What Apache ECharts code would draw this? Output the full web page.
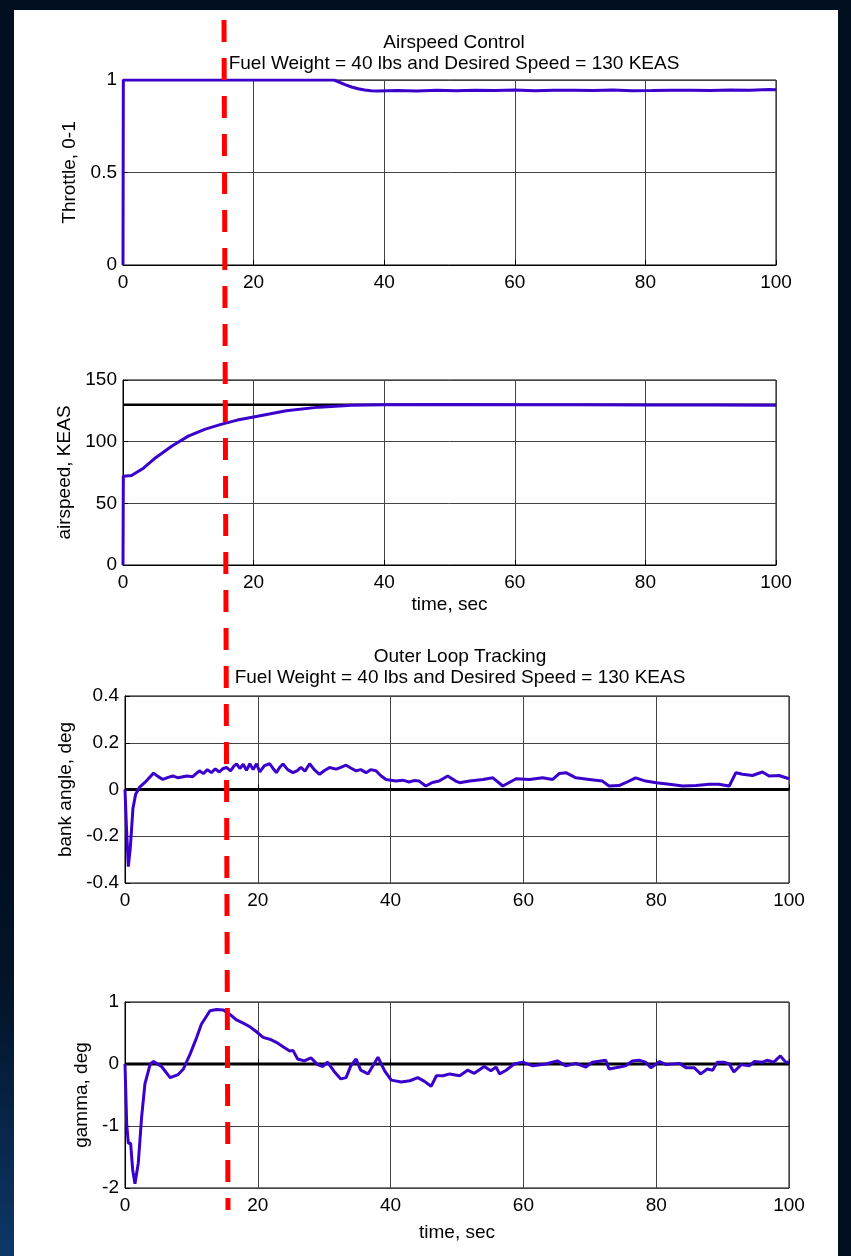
<!DOCTYPE html>
<html>
<head>
<meta charset="utf-8">
<script src="https://cdn.jsdelivr.net/npm/echarts@6/dist/echarts.min.js"></script>
<style>
  html, body { margin: 0; padding: 0; }
  body {
    width: 851px; height: 1256px; overflow: hidden; position: relative;
    background: radial-gradient(ellipse 500px 400px at 0% 100%, #0d3868 0%, #03162e 60%, #010f20 100%);
  }
  #panel { position: absolute; left: 14px; top: 10px; width: 824px; height: 1246px; background: #fff; }
  #main { position: absolute; left: 0; top: 0; width: 851px; height: 1256px; }
</style>
</head>
<body>
<div id="panel"></div>
<div id="main"></div>
<script>
var myChart = echarts.init(document.getElementById('main'));

// throttle
var thrT = [0, 0.05, 32.3, 33, 34, 35, 36, 37, 38, 39, 42, 45, 48, 51, 54, 57, 60, 63, 66, 69, 72, 75, 78, 81, 84, 87, 90, 93, 96, 99, 100];
var thrV = [0, 1, 1, 0.99, 0.975, 0.962, 0.953, 0.946, 0.942, 0.94, 0.943, 0.941, 0.944, 0.942, 0.945, 0.943, 0.946, 0.942, 0.944, 0.945, 0.943, 0.946, 0.942, 0.943, 0.945, 0.944, 0.943, 0.946, 0.945, 0.948, 0.947];

// airspeed
var asT = [0, 0.05, 1.3, 3, 5, 7.5, 10, 12.5, 15, 17.5, 20, 25, 30, 35, 40, 50, 60, 70, 80, 90, 100];
var asV = [0, 72, 72.5, 78, 87, 96.5, 104.5, 110, 114, 117.5, 120, 125, 128, 129.6, 130, 130.1, 130, 129.9, 129.8, 129.7, 129.5];
var desiredSpeed = 130;

// bank angle
var bankT = [0, 0.2, 0.5, 0.8, 1.2, 1.6, 2.2, 3, 4.3, 5,
  5.7, 6.5, 7.2, 8, 9.3, 10.2, 10.8, 11.2, 11.8, 12.4,
  13, 13.6, 14.2, 14.8, 15.3, 15.9, 16.4, 16.8, 17.3, 17.8,
  18.3, 18.8, 19.3, 19.8, 20.3, 21, 21.8, 22.3, 22.8, 23.3,
  23.8, 24.5, 25.3, 25.9, 26.5, 27.1, 27.8, 28.5, 29.3, 30,
  30.8, 31.8, 32.5, 33.3, 34, 34.8, 35.5, 36.3, 37, 37.8,
  38.5, 39.3, 40.8, 41.8, 42.8, 43.5, 44.3, 45.3, 46.3, 47.3,
  48.6, 49.8, 50.4, 51.9, 53.9, 55.4, 56.9, 58.9, 60.9, 62.9,
  64.4, 65.4, 66.4, 67.9, 69.9, 71.9, 72.9, 74.4, 75.4, 76.9,
  78.4, 80, 82, 84, 86, 88, 89.4, 91, 92, 93,
  94.5, 96, 97, 98.5, 100];
var bankV = [0, -0.15, -0.33, -0.25, -0.08, -0.02, 0.01, 0.03, 0.07, 0.055,
  0.043, 0.052, 0.058, 0.05, 0.058, 0.055, 0.07, 0.08, 0.068, 0.085,
  0.072, 0.088, 0.075, 0.09, 0.094, 0.08, 0.1, 0.11, 0.09, 0.108,
  0.082, 0.11, 0.085, 0.11, 0.075, 0.102, 0.11, 0.09, 0.072, 0.095,
  0.109, 0.085, 0.072, 0.08, 0.095, 0.078, 0.11, 0.085, 0.065, 0.08,
  0.094, 0.087, 0.095, 0.104, 0.092, 0.08, 0.085, 0.072, 0.085, 0.08,
  0.06, 0.043, 0.036, 0.04, 0.032, 0.038, 0.036, 0.015, 0.03, 0.036,
  0.058, 0.036, 0.029, 0.036, 0.043, 0.05, 0.015, 0.046, 0.043, 0.05,
  0.043, 0.068, 0.072, 0.05, 0.043, 0.036, 0.015, 0.017, 0.029, 0.05,
  0.036, 0.029, 0.022, 0.015, 0.017, 0.022, 0.022, 0.015, 0.072, 0.065,
  0.06, 0.075, 0.058, 0.06, 0.046];

// gamma
var gamT = [0, 0.25, 0.5, 0.85, 1.15, 1.5, 2, 2.5, 3, 3.8,
  4.3, 5.5, 6.8, 8, 8.8, 9.8, 10.8, 11.5, 12.8, 13.8,
  14.8, 15.8, 16.8, 17.8, 18.8, 19.8, 20.8, 21.8, 22.8, 23.8,
  24.8, 25.3, 26, 27, 28, 29, 29.8, 30.5, 31.5, 32.5,
  33.3, 34, 34.8, 35.5, 36.6, 38.1, 39.1, 40.1, 41.6, 42.9,
  44.1, 45.1, 46.1, 46.9, 47.9, 48.9, 50.4, 51.6, 52.6, 54.1,
  55.1, 55.9, 56.4, 57.4, 58.6, 59.9, 61.4, 63.4, 65.1, 66.4,
  67.9, 69.4, 70.4, 72.4, 72.9, 73.9, 75.4, 76.4, 77.4, 78.4,
  79.2, 80.5, 81.5, 83.5, 84.5, 85.7, 86.7, 87.7, 88.5, 89.2,
  90.2, 91, 91.7, 92.8, 94, 94.8, 96, 96.7, 97.7, 98.7,
  99.5, 100];
var gamV = [0, -0.96, -1.28, -1.28, -1.7, -1.93, -1.6, -0.86, -0.32, 0,
  0.04, -0.04, -0.22, -0.17, -0.08, 0.16, 0.43, 0.64, 0.86, 0.88,
  0.87, 0.8, 0.71, 0.66, 0.6, 0.52, 0.43, 0.4, 0.35, 0.28,
  0.21, 0.22, 0.08, 0.05, 0.1, -0.01, -0.04, 0.03, -0.12, -0.24,
  -0.22, -0.03, 0.08, -0.1, -0.16, 0.11, -0.11, -0.26, -0.29, -0.27,
  -0.22, -0.28, -0.36, -0.19, -0.19, -0.16, -0.19, -0.1, -0.15, -0.04,
  -0.11, -0.05, -0.16, -0.1, 0, 0.03, -0.03, 0, 0.05, -0.03,
  0.01, -0.05, 0.03, 0.06, -0.08, -0.06, -0.03, 0.05, 0.06, 0.03,
  -0.06, 0.04, -0.01, 0.01, -0.06, -0.06, -0.16, -0.08, -0.1, 0.03,
  0.03, 0, -0.13, -0.01, -0.03, 0.04, 0.03, 0.06, 0.03, 0.13,
  0.03, 0.03];

var cursorT = 15.5;   // red dashed marker
var timeTicks = [0, 100, 20];

var font = 'Liberation Sans, Arial, sans-serif';
var blue = '#3a00cc';

function pairs(t, v) {
  return t.map(function (x, i) { return [x, v[i]]; });
}

function xAx(idx, showName, gap) {
  return {
    type: 'value', gridIndex: idx, min: timeTicks[0], max: timeTicks[1], interval: timeTicks[2],
    name: showName ? 'time, sec' : '', nameLocation: 'middle', nameGap: gap,
    nameTextStyle: { color: '#000', fontSize: 19, fontFamily: font },
    axisLine: { lineStyle: { color: '#000', width: 1 } },
    axisTick: { inside: true, length: 5, lineStyle: { color: '#000' } },
    axisLabel: { color: '#000', fontSize: 19, fontFamily: font, margin: 8 },
    splitLine: { show: true, lineStyle: { color: '#444', width: 1 } }
  };
}

function yAx(idx, name, min, max, step, gap) {
  return {
    type: 'value', gridIndex: idx, min: min, max: max, interval: step,
    name: name, nameLocation: 'middle', nameGap: gap, nameRotate: 90,
    nameTextStyle: { color: '#000', fontSize: 19, fontFamily: font },
    axisLine: { show: true, lineStyle: { color: '#000', width: 1 } },
    axisTick: { show: true, inside: true, length: 5, lineStyle: { color: '#000' } },
    axisLabel: { color: '#000', fontSize: 19, fontFamily: font, margin: 6 },
    splitLine: { show: true, lineStyle: { color: '#444', width: 1 } }
  };
}

function sig(idx, data, color, width) {
  return {
    type: 'line', xAxisIndex: idx, yAxisIndex: idx, data: data,
    showSymbol: false, symbol: 'none', animation: false,
    lineStyle: { color: color, width: width }
  };
}

var titleStyle = { color: '#000', fontSize: 19, fontWeight: 'normal', fontFamily: font, lineHeight: 21 };

var option = {
  animation: false,
  title: [
    { text: 'Airspeed Control\nFuel Weight = 40 lbs and Desired Speed = 130 KEAS', left: 449, top: 27, textAlign: 'center', textStyle: titleStyle },
    { text: 'Outer Loop Tracking\nFuel Weight = 40 lbs and Desired Speed = 130 KEAS', left: 455, top: 641, textAlign: 'center', textStyle: titleStyle }
  ],
  grid: [
    { left: 123, width: 653, top: 80, height: 185, show: true, borderColor: '#000', borderWidth: 1, backgroundColor: '#fff' },
    { left: 123, width: 653, top: 380, height: 185, show: true, borderColor: '#000', borderWidth: 1, backgroundColor: '#fff' },
    { left: 125, width: 664, top: 696, height: 187, show: true, borderColor: '#000', borderWidth: 1, backgroundColor: '#fff' },
    { left: 125, width: 664, top: 1002, height: 186, show: true, borderColor: '#000', borderWidth: 1, backgroundColor: '#fff' }
  ],
  xAxis: [xAx(0, false, 30), xAx(1, true, 30), xAx(2, false, 30), xAx(3, true, 35)],
  yAxis: [
    yAx(0, 'Throttle, 0-1', 0, 1, 0.5, 44),
    yAx(1, 'airspeed, KEAS', 0, 150, 50, 44),
    yAx(2, 'bank angle, deg', -0.4, 0.4, 0.2, 47),
    yAx(3, 'gamma, deg', -2, 1, 1, 34)
  ],
  series: [
    sig(1, [[timeTicks[0], desiredSpeed], [timeTicks[1], desiredSpeed]], '#000', 2.5),
    sig(2, [[timeTicks[0], 0], [timeTicks[1], 0]], '#000', 3),
    sig(3, [[timeTicks[0], 0], [timeTicks[1], 0]], '#000', 3),
    sig(0, pairs(thrT, thrV), blue, 3),
    sig(1, pairs(asT, asV), blue, 3),
    sig(2, pairs(bankT, bankV), blue, 3),
    sig(3, pairs(gamT, gamV), blue, 3)
  ]
};

myChart.setOption(option);

// red dashed marker through all panels at t = cursorT
var pTop = myChart.convertToPixel({ gridIndex: 0 }, [cursorT, 1]);
var pBot = myChart.convertToPixel({ gridIndex: 3 }, [cursorT, -2]);
var slope = (pBot[0] - pTop[0]) / (pBot[1] - pTop[1]);
var y1 = 20, y2 = 1210;
myChart.setOption({
  graphic: [{
    type: 'line', z: 100,
    shape: {
      x1: pTop[0] + (y1 - pTop[1]) * slope, y1: y1,
      x2: pTop[0] + (y2 - pTop[1]) * slope, y2: y2
    },
    style: { stroke: '#ff0000', lineWidth: 5, lineDash: [22, 16] }
  }]
});
</script>
</body>
</html>
